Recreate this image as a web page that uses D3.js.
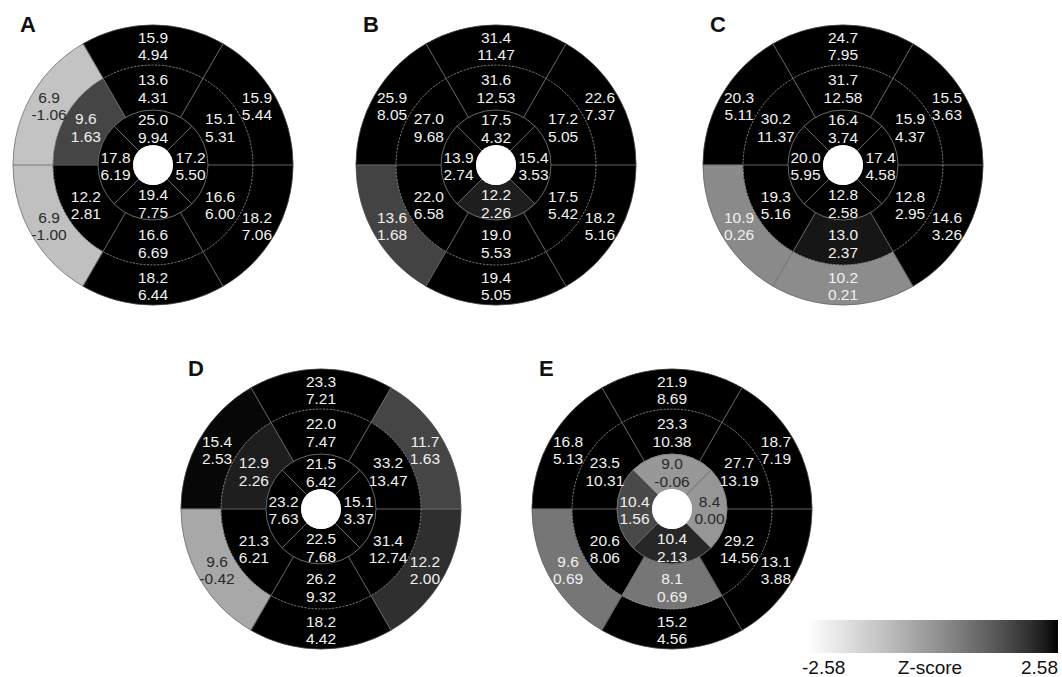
<!DOCTYPE html>
<html>
<head>
<meta charset="utf-8">
<script src="https://cdn.jsdelivr.net/npm/d3@7"></script>
<style>
  body { margin: 0; background: #fff; }
  text { font-family: Arial, "Liberation Sans", sans-serif; }
</style>
</head>
<body>
<script>
// panels, 16 AHA segments each (1-6 basal, 7-12 mid, 13-16 apical)
const panelNames = ["A", "B", "C", "D", "E"];

const valuesA = [15.9, 6.9, 6.9, 18.2, 18.2, 15.9, 13.6, 9.6, 12.2, 16.6, 16.6, 15.1, 25.0, 17.8, 19.4, 17.2];
const zA      = [4.94, -1.06, -1.00, 6.44, 7.06, 5.44, 4.31, 1.63, 2.81, 6.69, 6.00, 5.31, 9.94, 6.19, 7.75, 5.50];

const valuesB = [31.4, 25.9, 13.6, 19.4, 18.2, 22.6, 31.6, 27.0, 22.0, 19.0, 17.5, 17.2, 17.5, 13.9, 12.2, 15.4];
const zB      = [11.47, 8.05, 1.68, 5.05, 5.16, 7.37, 12.53, 9.68, 6.58, 5.53, 5.42, 5.05, 4.32, 2.74, 2.26, 3.53];

const valuesC = [24.7, 20.3, 10.9, 10.2, 14.6, 15.5, 31.7, 30.2, 19.3, 13.0, 12.8, 15.9, 16.4, 20.0, 12.8, 17.4];
const zC      = [7.95, 5.11, 0.26, 0.21, 3.26, 3.63, 12.58, 11.37, 5.16, 2.37, 2.95, 4.37, 3.74, 5.95, 2.58, 4.58];

const valuesD = [23.3, 15.4, 9.6, 18.2, 12.2, 11.7, 22.0, 12.9, 21.3, 26.2, 31.4, 33.2, 21.5, 23.2, 22.5, 15.1];
const zD      = [7.21, 2.53, -0.42, 4.42, 2.00, 1.63, 7.47, 2.26, 6.21, 9.32, 12.74, 13.47, 6.42, 7.63, 7.68, 3.37];

const valuesE = [21.9, 16.8, 9.6, 15.2, 13.1, 18.7, 23.3, 23.5, 20.6, 8.1, 29.2, 27.7, 9.0, 10.4, 10.4, 8.4];
const zE      = [8.69, 5.13, 0.69, 4.56, 3.88, 7.19, 10.38, 10.31, 8.06, 0.69, 14.56, 13.19, -0.06, 1.56, 2.13, 0.00];

const zDomain = [-2.58, 2.58];
const barLabels = ["-2.58", "Z-score", "2.58"];

const panelValues = [valuesA, valuesB, valuesC, valuesD, valuesE];
const panelZ = [zA, zB, zC, zD, zE];

// layout
const width = 1062, height = 677;
const centers = [[153, 165], [496, 165], [843, 165], [321, 509], [672, 509]];
const R = 140;
const rings = [[100, R], [55, 100], [20, 55]];   // basal, mid, apical

const svg = d3.select("body").append("svg")
    .attr("width", width)
    .attr("height", height);

const color = d3.scaleLinear()
    .domain(zDomain)
    .range(["#ffffff", "#000000"])
    .interpolate(d3.interpolateRgb.gamma(1.3))
    .clamp(true);

const arc = d3.arc();

function segInfo(s) {
    const ring = s < 6 ? 0 : (s < 12 ? 1 : 2);
    const k = ring === 0 ? s : (ring === 1 ? s - 6 : s - 12);
    const n = ring < 2 ? 6 : 4;
    const step = 2 * Math.PI / n;
    const mid = -k * step;
    return {
        innerRadius: rings[ring][0],
        outerRadius: rings[ring][1],
        startAngle: mid - step / 2,
        endAngle: mid + step / 2
    };
}

function pt(r, a) { return [r * Math.sin(a), -r * Math.cos(a)]; }

panelNames.forEach((name, p) => {
    const g = svg.append("g")
        .attr("transform", `translate(${centers[p][0]},${centers[p][1]})`);

    const segs = panelValues[p].map((v, i) => Object.assign(segInfo(i), {v: v, z: panelZ[p][i]}));

    g.selectAll("path.seg")
        .data(segs)
        .enter().append("path")
        .attr("class", "seg")
        .attr("d", arc)
        .attr("fill", d => color(d.z))
        .attr("stroke", d => color(d.z))
        .attr("stroke-width", 0.5);

    // radial separators
    const lines = [];
    for (let k = 0; k < 6; k++) {
        const a = -k * Math.PI / 3 - Math.PI / 6;
        lines.push([pt(55, a), pt(R, a)]);
    }
    for (let k = 0; k < 4; k++) {
        const a = -k * Math.PI / 2 - Math.PI / 4;
        lines.push([pt(20, a), pt(55, a)]);
    }
    g.selectAll("line.sep")
        .data(lines)
        .enter().append("line")
        .attr("x1", d => d[0][0]).attr("y1", d => d[0][1])
        .attr("x2", d => d[1][0]).attr("y2", d => d[1][1])
        .attr("stroke", "#6f6f6f")
        .attr("stroke-width", 0.9);

    g.append("circle").attr("r", 100)
        .attr("fill", "none")
        .attr("stroke", "#9a9a9a")
        .attr("stroke-width", 0.8)
        .attr("stroke-dasharray", "2,1.5");
    g.append("circle").attr("r", 55)
        .attr("fill", "none")
        .attr("stroke", "#7a7a7a")
        .attr("stroke-width", 0.8);
    g.append("circle").attr("r", R)
        .attr("fill", "none")
        .attr("stroke", "#555")
        .attr("stroke-width", 0.6);
    g.append("circle").attr("r", 20).attr("fill", "#fff");

    // labels
    const lab = g.selectAll("text.val")
        .data(segs)
        .enter().append("text")
        .attr("class", "val")
        .attr("text-anchor", "middle")
        .attr("font-size", "15.5px")
        .attr("fill", d => d.z <= 0 ? "#2a2a2a" : "#f0f0f0")
        .attr("transform", d => {
            const c = arc.centroid(d);
            return `translate(${c[0]},${c[1] + 1})`;
        });
    lab.append("tspan").attr("x", 0).attr("y", -8.7).attr("dy", "0.36em").text(d => d.v.toFixed(1));
    lab.append("tspan").attr("x", 0).attr("y", 8.7).attr("dy", "0.36em").text(d => d.z.toFixed(2));

    svg.append("text")
        .attr("x", centers[p][0] - 133)
        .attr("y", centers[p][1] - 133)
        .attr("font-size", "22px")
        .attr("font-weight", "bold")
        .attr("fill", "#111")
        .text(name);
});

// colour bar
const bar = {x: 807, y: 620, w: 251, h: 33};
const grad = svg.append("defs").append("linearGradient")
    .attr("id", "zgrad");
d3.range(0, 1.0001, 0.05).forEach(t => {
    grad.append("stop")
        .attr("offset", t)
        .attr("stop-color", color(zDomain[0] + t * (zDomain[1] - zDomain[0])));
});
svg.append("rect")
    .attr("x", bar.x).attr("y", bar.y)
    .attr("width", bar.w).attr("height", bar.h)
    .attr("fill", "url(#zgrad)");

const barScale = d3.scalePoint().domain(barLabels).range([bar.x - 5, bar.x + bar.w]);
svg.selectAll("text.bar")
    .data(barLabels)
    .enter().append("text")
    .attr("x", d => barScale(d))
    .attr("y", 674)
    .attr("font-size", "19px")
    .attr("fill", "#111")
    .attr("text-anchor", (d, i) => ["start", "middle", "end"][i])
    .text(d => d);
</script>
</body>
</html>
